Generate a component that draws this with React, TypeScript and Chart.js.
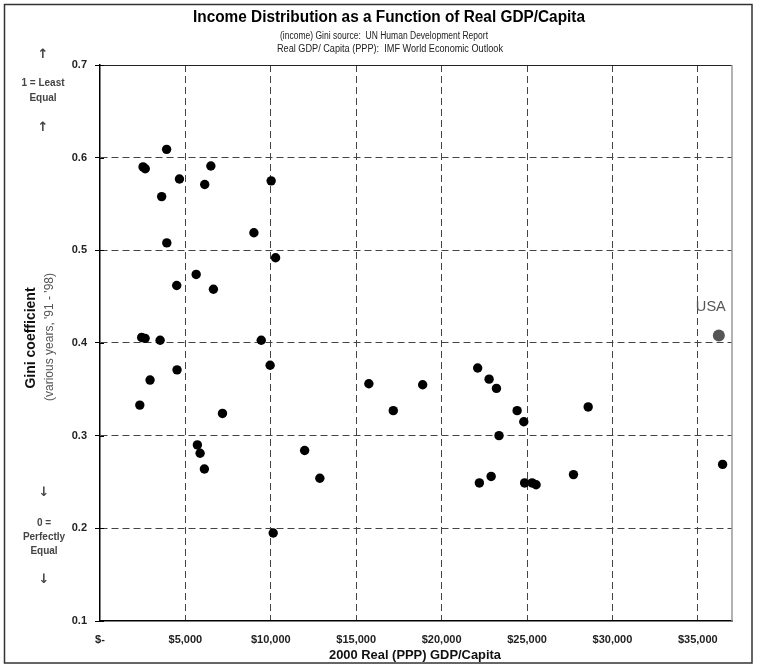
import { useEffect, useRef } from "react";
import { Chart, registerables } from "chart.js";

Chart.register(...registerables);

// ---- Data ----
const gdpPerCapita = [
  3900, 2520, 2650, 6490, 4650, 6130, 10020, 3610, 3910, 9010,
  10280, 5630, 4490, 6640, 2440, 2640, 3520, 9440, 9960, 4510,
  2930, 2330, 7170, 5700, 5860, 6110, 11980, 10140, 15740, 18890,
  17170, 22110, 22780, 23210, 23360, 12870, 22210, 22900, 24420, 24810,
  28580, 36450, 24860, 25300, 25530, 27720,
];
const giniCoefficient = [
  0.609, 0.590, 0.588, 0.591, 0.577, 0.571, 0.575, 0.558, 0.508, 0.519,
  0.492, 0.474, 0.462, 0.458, 0.406, 0.405, 0.403, 0.403, 0.376, 0.371,
  0.360, 0.333, 0.324, 0.290, 0.281, 0.264, 0.284, 0.195, 0.356, 0.355,
  0.327, 0.373, 0.361, 0.351, 0.300, 0.254, 0.249, 0.256, 0.327, 0.315,
  0.331, 0.269, 0.249, 0.249, 0.247, 0.258,
];
const usaGdp = [36230];
const usaGini = [0.408];
const usaLabel = "USA";

const xTickValues = [0, 5000, 10000, 15000, 20000, 25000, 30000, 35000];
const yTickValues = [0.1, 0.2, 0.3, 0.4, 0.5, 0.6, 0.7];

const titleText = "Income Distribution as a Function of Real GDP/Capita";
const subtitle1 = "(income) Gini source:  UN Human Development Report";
const subtitle2 = "Real GDP/ Capita (PPP):  IMF World Economic Outlook";
const yTitle = "Gini coefficient";
const yTitle2 = "(various years, '91 - '98)";
const xTitle = "2000 Real (PPP) GDP/Capita";
const topNote = ["1 = Least", "Equal"];
const bottomNote = ["0 =", "Perfectly", "Equal"];

const FONT = "'Liberation Sans', Arial, 'DejaVu Sans', sans-serif";
const NARROW = "'Liberation Sans Narrow', 'Liberation Sans', Arial, sans-serif";
const ARROW_FONT = "bold 13px 'DejaVu Sans', sans-serif";

function fmtMoney(v: number): string {
  if (v === 0) return "$-";
  return "$" + v.toLocaleString("en-US");
}

const decorPlugin = {
  id: "decor",
  beforeDatasetsDraw(chart: any) {
    const { ctx, chartArea } = chart;
    const y = chart.scales.y;
    ctx.save();
    // solid top border of plot area
    ctx.strokeStyle = "#222";
    ctx.lineWidth = 1;
    ctx.beginPath();
    ctx.moveTo(chartArea.left, chartArea.top + 0.5);
    ctx.lineTo(chartArea.right, chartArea.top + 0.5);
    ctx.stroke();
    // gray right border
    ctx.strokeStyle = "#999";
    ctx.lineWidth = 1.5;
    ctx.beginPath();
    ctx.moveTo(chartArea.right, chartArea.top);
    ctx.lineTo(chartArea.right, chartArea.bottom);
    ctx.stroke();
    // inner part of crossing y ticks
    ctx.strokeStyle = "#000";
    ctx.lineWidth = 1;
    for (const v of yTickValues) {
      const py = Math.round(y.getPixelForValue(v)) + 0.5;
      ctx.beginPath();
      ctx.moveTo(chartArea.left, py);
      ctx.lineTo(chartArea.left + 4, py);
      ctx.stroke();
    }
    ctx.restore();
  },
  afterDraw(chart: any) {
    const { ctx } = chart;
    const xs = chart.scales.x;
    const ys = chart.scales.y;
    ctx.save();
    ctx.textAlign = "center";
    ctx.textBaseline = "middle";

    // Title and subtitles
    ctx.fillStyle = "#000";
    ctx.font = `bold 16px ${NARROW}`;
    ctx.fillText(titleText, 389, 18, 392);
    ctx.fillStyle = "#222";
    ctx.font = `10px ${NARROW}`;
    ctx.fillText(subtitle1, 384, 36.5, 208);
    ctx.fillText(subtitle2, 390, 49, 226);

    // Left annotations
    ctx.fillStyle = "#444";
    ctx.font = ARROW_FONT;
    ctx.fillText("\u2191", 43, 55);
    ctx.fillText("\u2191", 43, 128);
    ctx.fillText("\u2193", 44, 493);
    ctx.fillText("\u2193", 44, 580);
    ctx.font = `bold 10px ${FONT}`;
    ctx.fillText(topNote[0], 43, 83);
    ctx.fillText(topNote[1], 43, 98);
    ctx.fillText(bottomNote[0], 44, 523);
    ctx.fillText(bottomNote[1], 44, 537);
    ctx.fillText(bottomNote[2], 44, 551);

    // Y titles (rotated)
    ctx.save();
    ctx.translate(31, 338);
    ctx.rotate(-Math.PI / 2);
    ctx.fillStyle = "#111";
    ctx.font = `bold 14px ${FONT}`;
    ctx.fillText(yTitle, 0, 0);
    ctx.restore();
    ctx.save();
    ctx.translate(50, 337);
    ctx.rotate(-Math.PI / 2);
    ctx.fillStyle = "#555";
    ctx.font = `12px ${FONT}`;
    ctx.fillText(yTitle2, 0, 0);
    ctx.restore();

    // X title
    ctx.fillStyle = "#111";
    ctx.font = `bold 13px ${FONT}`;
    ctx.fillText(xTitle, 415, 655, 172);

    // USA label
    const ux = xs.getPixelForValue(usaGdp[0]);
    const uy = ys.getPixelForValue(usaGini[0]);
    ctx.fillStyle = "#555";
    ctx.font = `15px ${NARROW}`;
    ctx.fillText(usaLabel, ux - 8, uy - 29, 30);

    // Outer frame
    ctx.strokeStyle = "#333";
    ctx.lineWidth = 1.5;
    ctx.strokeRect(4.5, 4.5, 747.5, 658.5);
    ctx.restore();
  },
};

const gridColor = (c: any) =>
  c.tick && (c.tick.value === 0 || Math.abs(c.tick.value - 0.1) < 1e-9) ? "rgba(0,0,0,0)" : "#444";

export default function App() {
  const ref = useRef<HTMLCanvasElement>(null);

  useEffect(() => {
    document.body.style.margin = "0";
    document.body.style.overflow = "hidden";
    const canvas = ref.current;
    if (!canvas) return;

    const chart = new Chart(canvas, {
      type: "scatter",
      data: {
        datasets: [
          {
            label: "Countries",
            data: gdpPerCapita.map((x, i) => ({ x, y: giniCoefficient[i] })),
            pointRadius: 4.7,
            pointHoverRadius: 4.7,
            backgroundColor: "#000",
            borderColor: "#000",
            borderWidth: 0,
          },
          {
            label: usaLabel,
            data: usaGdp.map((x, i) => ({ x, y: usaGini[i] })),
            pointRadius: 6,
            pointHoverRadius: 6,
            backgroundColor: "#555",
            borderColor: "#555",
            borderWidth: 0,
          },
        ],
      },
      options: {
        responsive: false,
        animation: false,
        events: [],
        layout: { padding: { left: 60, right: 25, top: 65, bottom: 0 } },
        plugins: {
          legend: { display: false },
          tooltip: { enabled: false },
          title: { display: false },
        },
        scales: {
          x: {
            type: "linear",
            position: "bottom",
            min: 0,
            max: 37000,
            afterFit: (s: any) => {
              s.height = 44;
              s.paddingLeft = 0;
              s.paddingRight = 0;
            },
            afterBuildTicks: (s: any) => {
              s.ticks = xTickValues.map((v) => ({ value: v }));
            },
            ticks: {
              callback: (v: any) => fmtMoney(Number(v)),
              font: { family: FONT, size: 11, weight: "bold" },
              color: "#222",
              padding: 12,
              maxRotation: 0,
              autoSkip: false,
            },
            grid: { color: gridColor, lineWidth: 1, drawTicks: false },
            border: { display: true, color: "#000", width: 1.5, dash: [7, 4] },
          },
          y: {
            type: "linear",
            min: 0.1,
            max: 0.7,
            afterFit: (s: any) => {
              s.width = 40;
            },
            afterBuildTicks: (s: any) => {
              s.ticks = yTickValues.map((v) => ({ value: v }));
            },
            ticks: {
              callback: (v: any) => Number(v).toFixed(1),
              font: { family: FONT, size: 11, weight: "bold" },
              color: "#222",
              padding: 8,
              autoSkip: false,
            },
            grid: {
              color: gridColor,
              lineWidth: 1,
              drawTicks: true,
              tickLength: 5,
              tickColor: "#000",
              tickBorderDash: [],
            },
            border: { display: true, color: "#000", width: 1.5, dash: [7, 4] },
          },
        },
      } as any,
      plugins: [decorPlugin],
    });

    return () => chart.destroy();
  }, []);

  return (
    <div style={{ width: 757, height: 665, background: "#fff", position: "relative" }}>
      <canvas
        ref={ref}
        width={757}
        height={665}
        style={{ width: 757, height: 665, display: "block" }}
      />
    </div>
  );
}
